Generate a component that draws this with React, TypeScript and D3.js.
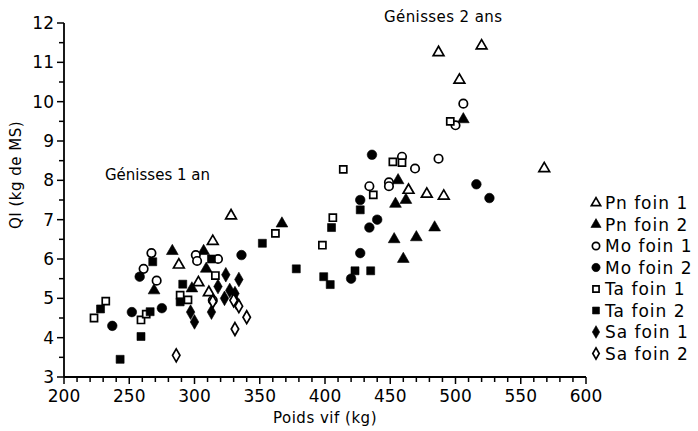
import React from "react";
import * as d3 from "d3";

// [poids vif (kg), QI (kg de MS)]
const pnFoin1 = [[288, 5.85], [303, 5.4], [311, 5.15], [314, 6.45], [328, 7.1], [464, 7.75], [478, 7.65], [491, 7.6], [487, 11.25], [520, 11.42], [503, 10.55], [568, 8.3]];
const pnFoin2 = [[269, 5.2], [283, 6.2], [298, 5.25], [307, 6.2], [309, 5.75], [367, 6.9], [456, 8.0], [462, 7.5], [454, 7.4], [484, 6.8], [470, 6.55], [453, 6.5], [460, 6.0], [506, 9.55]];
const moFoin1 = [[267, 6.15], [261, 5.75], [271, 5.45], [301, 6.1], [302, 5.95], [318, 6.0], [314, 4.95], [434, 7.85], [449, 7.95], [449, 7.85], [459, 8.6], [469, 8.3], [487, 8.55], [500, 9.4], [506, 9.95]];
const moFoin2 = [[237, 4.3], [252, 4.65], [258, 5.55], [275, 4.75], [336, 6.1], [420, 5.5], [427, 6.15], [427, 7.5], [434, 6.8], [440, 7.0], [436, 8.65], [516, 7.9], [526, 7.55]];
const taFoin1 = [[223, 4.5], [232, 4.93], [259, 4.45], [263, 4.6], [289, 5.08], [295, 4.96], [316, 5.58], [362, 6.65], [398, 6.35], [406, 7.05], [414, 8.28], [437, 7.63], [452, 8.47], [459, 8.45], [496, 9.5]];
const taFoin2 = [[228, 4.73], [243, 3.45], [259, 4.03], [266, 4.66], [268, 5.93], [291, 5.36], [289, 4.91], [313, 6.0], [352, 6.4], [378, 5.75], [399, 5.55], [404, 5.35], [405, 6.8], [423, 5.7], [435, 5.7], [427, 7.25]];
const saFoin1 = [[297, 4.65], [300, 4.4], [313, 4.65], [318, 5.3], [324, 5.6], [327, 5.2], [331, 5.12], [323, 5.0], [332, 4.9], [334, 5.48]];
const saFoin2 = [[286, 3.55], [314, 4.92], [330, 4.95], [334, 4.8], [340, 4.52], [331, 4.22]];

const seriesNames = ["Pn foin 1", "Pn foin 2", "Mo foin 1", "Mo foin 2", "Ta foin 1", "Ta foin 2", "Sa foin 1", "Sa foin 2"];
const seriesData = [pnFoin1, pnFoin2, moFoin1, moFoin2, taFoin1, taFoin2, saFoin1, saFoin2];

const xTicks = [200, 250, 300, 350, 400, 450, 500, 550, 600];
const yTicks = [3, 4, 5, 6, 7, 8, 9, 10, 11, 12];

const font = "'DejaVu Sans', sans-serif";

const symbols = [
  { type: d3.symbolTriangle, filled: false, size: 50 },
  { type: d3.symbolTriangle, filled: true, size: 60 },
  { type: d3.symbolCircle, filled: false, size: 56 },
  { type: d3.symbolCircle, filled: true, size: 72 },
  { type: d3.symbolSquare, filled: false, size: 50 },
  { type: d3.symbolSquare, filled: true, size: 64 },
  { type: d3.symbolDiamond, filled: true, size: 62 },
  { type: d3.symbolDiamond, filled: false, size: 48 },
];

const Marker = ({ i, x, y, scale = 1 }) => {
  const s = symbols[i];
  const d = d3.symbol().type(s.type).size(s.size * scale)();
  return (
    <path
      d={d}
      transform={`translate(${x},${y})`}
      fill={s.filled ? "#000" : "#fff"}
      stroke="#000"
      strokeWidth={s.filled ? 0.6 : 1.7}
    />
  );
};

export default function App() {
  const x = d3.scaleLinear().domain([200, 600]).range([64, 586]);
  const y = d3.scaleLinear().domain([3, 12]).range([377, 23]);
  const xMinor = d3.range(200, 601, 10);
  const yMinor = d3.range(3, 12.01, 0.5);

  return (
    <svg width={698} height={431} style={{ position: "absolute", left: 0, top: 0, background: "#fff" }}>
      {/* axes */}
      <g stroke="#000" strokeWidth={1.8}>
        <line x1={x(200)} x2={x(600)} y1={y(3)} y2={y(3)} />
        <line x1={x(200)} x2={x(200)} y1={y(3)} y2={y(12)} />
        {xMinor.map(v => (
          <line key={"xm" + v} x1={x(v)} x2={x(v)} y1={y(3)} y2={y(3) + (v % 50 === 0 ? 7 : 5)} strokeWidth={1.5} />
        ))}
        {yMinor.map(v => (
          <line key={"ym" + v} x1={x(200)} x2={x(200) - (v % 1 === 0 ? 7 : 5)} y1={y(v)} y2={y(v)} strokeWidth={1.5} />
        ))}
      </g>
      <g fontFamily={font} fontSize={17} fill="#000">
        {xTicks.map(v => (
          <text key={"xt" + v} x={x(v)} y={y(3) + 25} textAnchor="middle">{v}</text>
        ))}
        {yTicks.map(v => (
          <text key={"yt" + v} x={x(200) - 10} y={y(v) + 6} textAnchor="end">{v}</text>
        ))}
      </g>
      <text x={x(400)} y={423} textAnchor="middle" fontFamily={font} fontSize={15} letterSpacing={0.5}>Poids vif (kg)</text>
      <text transform={`translate(21,175) rotate(-90)`} textAnchor="middle" fontFamily={font} fontSize={15} letterSpacing={0.5}>QI (kg de MS)</text>
      <text x={105} y={180} fontFamily={font} fontSize={15}>Génisses 1 an</text>
      <text x={384} y={22} fontFamily={font} fontSize={15} letterSpacing={0.4}>Génisses 2 ans</text>

      {/* points */}
      {seriesData.map((pts, i) => (
        <g key={"s" + i}>
          {pts.map((p, j) => (
            <Marker key={j} i={i} x={x(p[0])} y={y(p[1])} />
          ))}
        </g>
      ))}

      {/* legend */}
      {seriesNames.map((name, i) => (
        <g key={"l" + i} transform={`translate(596,${203 + i * 21.5})`}>
          <Marker i={i} x={0} y={0} scale={0.75} />
          <text x={9} y={6} fontFamily={font} fontSize={17} letterSpacing={1}>{name}</text>
        </g>
      ))}
    </svg>
  );
}
